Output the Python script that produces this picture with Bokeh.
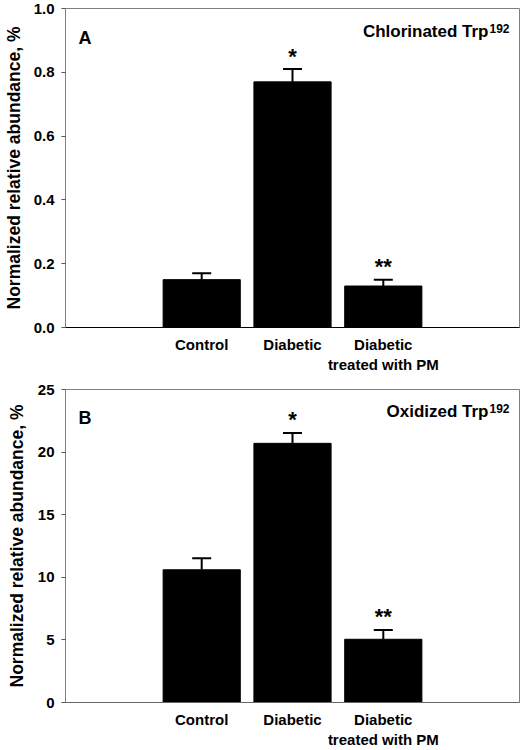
from bokeh.plotting import figure
from bokeh.layouts import column
from bokeh.models import ColumnDataSource, Whisker, TeeHead, Label, FixedTicker, Range1d
from bokeh.core.properties import value
from bokeh.embed import file_html
from bokeh.resources import INLINE

# ---- data ----
positions = [1, 2, 3]
groups = ["Control", "Diabetic", "Diabetic\ntreated with PM"]
chlorinated = [0.15, 0.77, 0.13]
chlorinated_err = [0.02, 0.04, 0.02]
oxidized = [10.6, 20.7, 5.05]
oxidized_err = [0.92, 0.83, 0.75]
significance = ["", "*", "**"]
chl_ticks = [0.0, 0.2, 0.4, 0.6, 0.8, 1.0]
chl_tick_labels = ["0.0", "0.2", "0.4", "0.6", "0.8", "1.0"]
oxi_ticks = [0, 5, 10, 15, 20, 25]
oxi_tick_labels = ["0", "5", "10", "15", "20", "25"]
y_label = "Normalized relative abundance, %"

FONT = "Liberation Sans"


def make_panel(vals, errs, ymax, ticks, tick_labels, letter, title, height,
               border_top, border_bottom, xlabel_standoff, xaxis_color,
               ylabel_standoff, letter_dy, title_dy):
    p = figure(width=521, height=height,
               x_range=Range1d(-0.5, 4.5), y_range=Range1d(0, ymax),
               output_backend="svg", toolbar_location=None,
               min_border_left=62, min_border_right=2,
               min_border_top=border_top, min_border_bottom=border_bottom)
    p.grid.visible = False
    p.outline_line_color = "#808080"
    p.outline_line_width = 1
    p.background_fill_color = "white"
    p.border_fill_color = "white"

    src = ColumnDataSource(dict(
        x=positions,
        top=vals,
        upper=[v + e for v, e in zip(vals, errs)],
        star=significance,
    ))

    p.vbar(x="x", top="top", bottom=0, width=0.85, source=src,
           fill_color="black", line_color="black")

    w = Whisker(base="x", upper="upper", lower="top", dimension="height",
                source=src, line_color="black", line_width=2,
                upper_head=TeeHead(size=19, line_color="black", line_width=2),
                lower_head=None)
    p.add_layout(w)

    p.text(x="x", y="upper", text="star", source=src,
           text_align="center", text_baseline="alphabetic", y_offset=-13,
           text_font=value(FONT), text_font_style="bold",
           text_font_size="22px", text_color="black")

    # y axis
    ya = p.yaxis[0]
    ya.ticker = FixedTicker(ticks=ticks)
    ya.major_label_overrides = {t: l for t, l in zip(ticks, tick_labels)}
    ya.minor_tick_line_color = None
    ya.major_tick_out = 4
    ya.major_tick_in = 0
    ya.major_tick_line_color = "#555555"
    ya.axis_line_color = "#808080"
    ya.major_label_standoff = 7
    ya.major_label_text_font = FONT
    ya.major_label_text_font_style = "bold"
    ya.major_label_text_font_size = "15px"
    ya.major_label_text_color = "black"
    ya.axis_label = y_label
    ya.axis_label_standoff = ylabel_standoff
    ya.axis_label_text_font = FONT
    ya.axis_label_text_font_style = "bold"
    ya.axis_label_text_font_size = "17.5px"
    ya.axis_label_text_color = "black"

    # x axis
    xa = p.xaxis[0]
    xa.ticker = FixedTicker(ticks=positions)
    xa.major_label_overrides = {pos: g for pos, g in zip(positions, groups)}
    xa.minor_tick_line_color = None
    xa.major_tick_line_color = None
    xa.major_tick_out = 0
    xa.major_tick_in = 0
    xa.axis_line_color = xaxis_color
    xa.major_label_standoff = xlabel_standoff
    xa.major_label_text_font = FONT
    xa.major_label_text_font_style = "bold"
    xa.major_label_text_font_size = "15px"
    xa.major_label_text_color = "black"

    # panel letter
    p.add_layout(Label(x=-0.5, y=ymax, x_offset=13, y_offset=-letter_dy,
                       text=letter, text_align="left",
                       text_baseline="alphabetic", text_font=FONT,
                       text_font_style="bold", text_font_size="18px",
                       text_color="black"))
    # title + superscript
    p.add_layout(Label(x=4.5, y=ymax, x_offset=-31, y_offset=-title_dy,
                       text=title, text_align="right",
                       text_baseline="alphabetic", text_font=FONT,
                       text_font_style="bold", text_font_size="17px",
                       text_color="black"))
    p.add_layout(Label(x=4.5, y=ymax, x_offset=-10, y_offset=-(title_dy - 3),
                       text="192", text_align="right",
                       text_baseline="alphabetic", text_font=FONT,
                       text_font_style="bold", text_font_size="12px",
                       text_color="black"))
    return p


pA = make_panel(chlorinated, chlorinated_err, 1.0, chl_ticks, chl_tick_labels,
                "A", "Chlorinated Trp", height=378, border_top=8,
                border_bottom=51, xlabel_standoff=8, xaxis_color="black",
                ylabel_standoff=7, letter_dy=29, title_dy=23)
pB = make_panel(oxidized, oxidized_err, 25, oxi_ticks, oxi_tick_labels,
                "B", "Oxidized Trp", height=372, border_top=11,
                border_bottom=42, xlabel_standoff=8, xaxis_color="#666666",
                ylabel_standoff=8, letter_dy=28, title_dy=22)

layout = column(pA, pB, spacing=0)
open("out.html", "w").write(file_html(layout, INLINE))
